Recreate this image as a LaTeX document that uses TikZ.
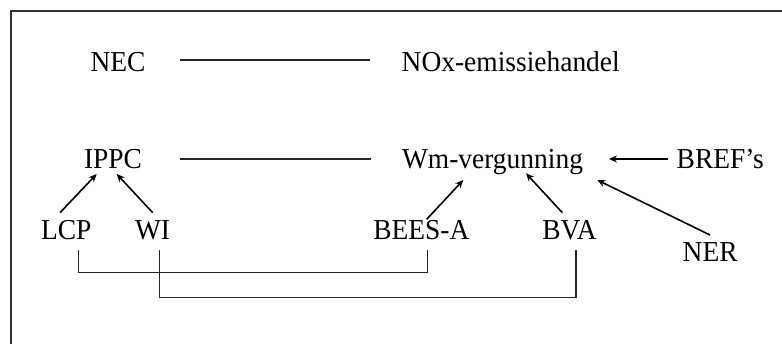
\documentclass[tikz,border=0pt]{standalone}
\usepackage{fontspec}
\setmainfont{Liberation Serif}
\newfontfamily\lblfont[FakeStretch=0.95]{Liberation Serif}
\usetikzlibrary{arrows.meta}
\begin{document}
\begin{tikzpicture}[x=1pt,y=-1pt,
  lbl/.style={inner sep=0pt,outer sep=0pt,anchor=base west,text height=19pt,text depth=6pt,
    font=\lblfont\fontsize{28.9}{34}\selectfont},
  link/.style={line width=1.3pt,draw=black!85},
  arr/.style={line width=1.6pt,draw=black,-{Stealth[length=8pt,width=7pt]}},
  frame/.style={line width=1.3pt,draw=black!80}]
\useasboundingbox (0,0) rectangle (782,344);
\draw[frame] (782,11) -- (11,11) -- (11,344);
% nodes
\node[lbl] (NEC) at (90.5,71.5) {NEC};
\node[lbl] (NOx) at (401.7,71.5) {NOx-emissiehandel};
\node[lbl] (IPPC) at (84,168.5) {IPPC};
\node[lbl] (Wm) at (402,168.5) {Wm-vergunning};
\node[lbl] (BREF) at (676.7,168.5) {BREF’s};
\node[lbl] (LCP) at (41,240) {LCP};
\node[lbl] (WI) at (135,240) {WI};
\node[lbl] (BEES) at (373.3,240) {BEES-A};
\node[lbl] (BVA) at (542.3,240) {BVA};
\node[lbl] (NER) at (682.7,261.7) {NER};
% plain links
\draw[link] ([xshift=34.5pt,yshift=11.5pt]NEC.base east) -- ([xshift=-31.7pt,yshift=11.5pt]NOx.base west);
\draw[link] ([xshift=38pt,yshift=9.5pt]IPPC.base east) -- ([xshift=-31pt,yshift=9.5pt]Wm.base west);
% arrows
\draw[arr] ([xshift=-8.4pt,yshift=9.5pt]BREF.base west) -- ([xshift=26pt,yshift=9.5pt]Wm.base east);
\draw[arr] ([xshift=19pt,yshift=27.3pt]LCP.base west) -- ([xshift=12.7pt,yshift=-5.5pt]IPPC.base west);
\draw[arr] ([xshift=17.7pt,yshift=27.3pt]WI.base west) -- ([xshift=32.7pt,yshift=-5.5pt]IPPC.base west);
\draw[arr] ([xshift=53.4pt,yshift=20.7pt]BEES.base west) -- ([xshift=61.3pt,yshift=-11.5pt]Wm.base west);
\draw[arr] ([xshift=20pt,yshift=27.3pt]BVA.base west) -- ([xshift=124pt,yshift=-4.8pt]Wm.base west);
\draw[arr] ([xshift=27.3pt,yshift=26.7pt]NER.base west) -- ([xshift=195.3pt,yshift=-11.5pt]Wm.base west);
% brackets
\draw[link] ([xshift=37.3pt,yshift=-10.5pt]LCP.base west) -- ++(0,21.8) -| ([xshift=54.4pt,yshift=-10.5pt]BEES.base west);
\draw[link] ([xshift=24.3pt,yshift=-10.5pt]WI.base west) -- ++(0,46.8) -| ([xshift=33.7pt,yshift=-10.5pt]BVA.base west);
\end{tikzpicture}
\end{document}
